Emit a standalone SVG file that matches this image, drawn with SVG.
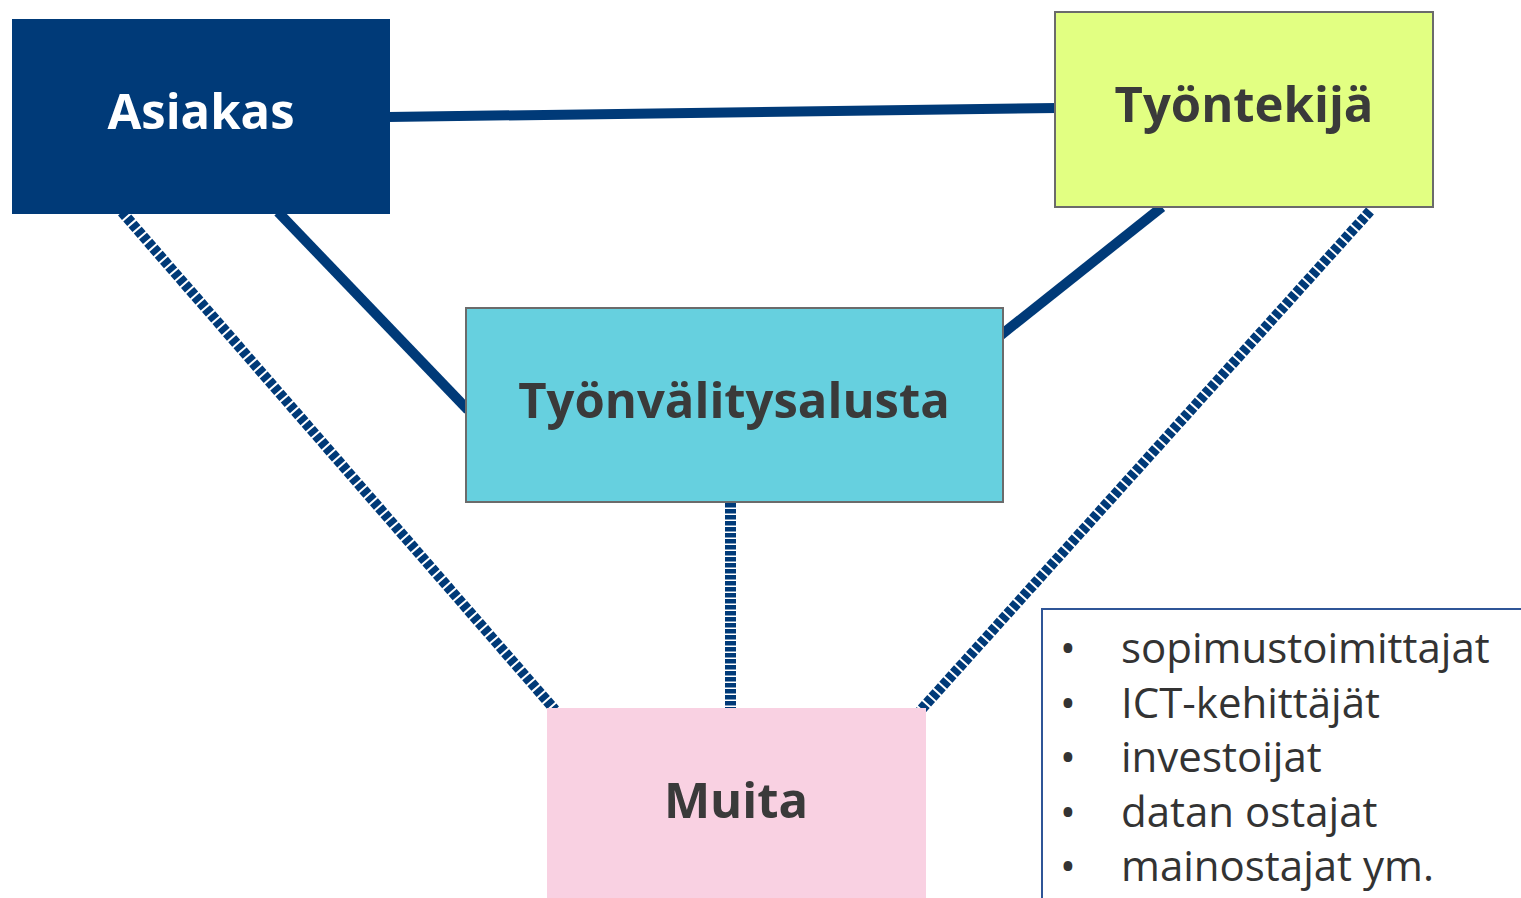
<svg xmlns="http://www.w3.org/2000/svg" width="1521" height="898" viewBox="0 0 1521 898">
<style>
.solid{stroke:#003A78;stroke-width:10;fill:none}
.dash{stroke:#003A78;stroke-width:10.5;fill:none;stroke-dasharray:6 2}
.lbl{font-family:"Open Sans","Noto Sans",sans-serif;font-weight:bold;font-size:49px;text-anchor:middle;fill:#3A3A3A}
.item{font-family:"Open Sans","Noto Sans",sans-serif;font-size:42px;fill:#333333}
</style>
<rect width="1521" height="898" fill="#FFFFFF"/>
<g id="connectors">
<line class="solid" x1="388" y1="117" x2="1057" y2="108"/>
<line class="solid" x1="278" y1="212" x2="468" y2="410"/>
<line class="solid" x1="1162" y1="207" x2="1001" y2="335"/>
<line class="dash" x1="122" y1="212" x2="555" y2="710"/>
<line class="dash" x1="1370" y1="211" x2="920" y2="711"/>
<line class="dash" x1="730.5" y1="503" x2="730.5" y2="708" style="stroke-width:11;stroke-dasharray:4.5 1.5"/>
</g>
<g id="asiakas">
<rect x="12" y="19" width="378" height="195" fill="#003A78"/>
<text class="lbl" x="201" y="129" style="fill:#FFFFFF">Asiakas</text>
</g>
<g id="tyontekija">
<rect x="1055" y="12" width="378" height="195" fill="#E2FF82" stroke="#6B6B6B" stroke-width="2"/>
<text class="lbl" x="1244" y="122">Työntekijä</text>
</g>
<g id="tyonvalitysalusta">
<rect x="466" y="308" width="537" height="194" fill="#66D0DF" stroke="#6B6B6B" stroke-width="2"/>
<text class="lbl" x="734" y="418">Työnvälitysalusta</text>
</g>
<g id="muita">
<rect x="547" y="708" width="379" height="192" fill="#F9D1E2"/>
<text class="lbl" x="736" y="818">Muita</text>
</g>
<g id="lista">
<rect x="1042" y="609" width="490" height="300" fill="#FFFFFF" stroke="#2F5597" stroke-width="2"/>
<g class="item">
<text x="1060" y="663">•<tspan x="1121">sopimustoimittajat</tspan></text>
<text x="1060" y="718">•<tspan x="1121">ICT-kehittäjät</tspan></text>
<text x="1060" y="772">•<tspan x="1121">investoijat</tspan></text>
<text x="1060" y="827">•<tspan x="1121">datan ostajat</tspan></text>
<text x="1060" y="881">•<tspan x="1121">mainostajat ym.</tspan></text>
</g>
</g>
</svg>
